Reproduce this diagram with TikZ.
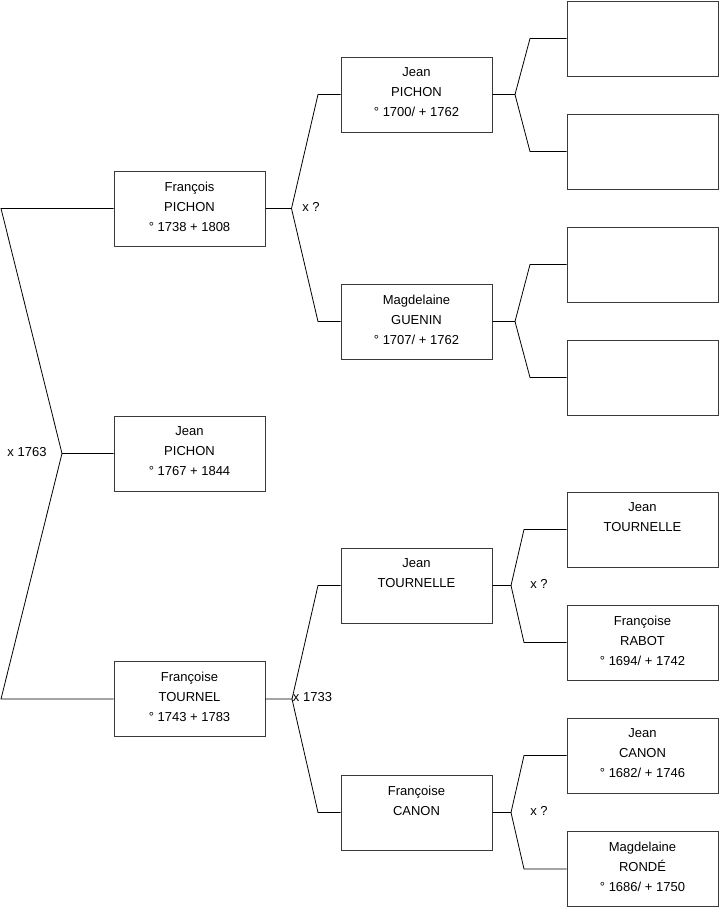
\documentclass[tikz,border=0pt]{standalone}
\usepackage{fontspec}
\setmainfont{Liberation Sans}
\usepackage{tikz}
\usetikzlibrary{calc}
\definecolor{frame}{HTML}{3A3A3A}
\tikzset{
  person/.style={draw=frame, line width=1pt, fill=white, minimum width=151pt, minimum height=75pt,
    align=center, inner sep=0pt, text depth=4pt, font=\fontsize{13}{20}\selectfont},
  link/.style={line width=0.8pt, line join=miter},
  union/.style={font=\fontsize{13}{16}\selectfont, inner sep=1pt},
}
\newcommand{\couple}[6]{%
  \coordinate (#2) at (#1 -| #3,0);
  \coordinate (#2a) at (#5.west -| #4,0);
  \coordinate (#2b) at (#6.west -| #4,0);
  \draw[link] (#1) -- (#2) -- (#2a) -- (#5.west);
  \draw[link] (#2) -- (#2b) -- (#6.west);
}

\begin{document}
\begin{tikzpicture}[x=1pt,y=-1pt]
  \useasboundingbox (0,0) rectangle (719,908);
  \node[person] (ego) at (189.5,453.5) {Jean\\PICHON\\° 1767 + 1844};
  \node[person] (fa)  at (189.5,208.5) {François\\PICHON\\° 1738 + 1808};
  \node[person] (mo)  at (189.5,699)   {Françoise\\TOURNEL\\° 1743 + 1783};
  \node[person] (faf) at (416.5,94.5)  {Jean\\PICHON\\° 1700/ + 1762};
  \node[person] (fam) at (416.5,321.5) {Magdelaine\\GUENIN\\° 1707/ + 1762};
  \node[person] (mof) at (416.5,585.5) {Jean\\TOURNELLE\\~};
  \node[person] (mom) at (416.5,812.5) {Françoise\\CANON\\~};
  \node[person] (faff) at (642.5,38.5)  {};
  \node[person] (fafm) at (642.5,151.5) {};
  \node[person] (famf) at (642.5,264.5) {};
  \node[person] (famm) at (642.5,377.5) {};
  \node[person] (moff) at (642.5,529.5) {Jean\\TOURNELLE\\~};
  \node[person] (mofm) at (642.5,642.5) {Françoise\\RABOT\\° 1694/ + 1742};
  \node[person] (momf) at (642.5,755.5) {Jean\\CANON\\° 1682/ + 1746};
  \node[person] (momm) at (642.5,869)   {Magdelaine\\RONDÉ\\° 1686/ + 1750};

  \couple{ego.west}{xe}{62}{1}{fa}{mo}
  \couple{fa.east}{xfa}{291.5}{318}{faf}{fam}
  \couple{mo.east}{xmo}{292}{318}{mof}{mom}
  \couple{faf.east}{xfaf}{515}{530}{faff}{fafm}
  \couple{fam.east}{xfam}{515}{530}{famf}{famm}
  \couple{mof.east}{xmof}{511}{524}{moff}{mofm}
  \couple{mom.east}{xmom}{511}{524}{momf}{momm}

  \node[union] (ue)   at (27,452)  {x 1763};
  \node[union] (ufa)  at (311,207) {x ?};
  \node[union] (umo)  at (312.5,697) {x 1733};
  \node[union] (umof) at (539,584) {x ?};
  \node[union] (umom) at (539,811) {x ?};
\end{tikzpicture}
\end{document}
